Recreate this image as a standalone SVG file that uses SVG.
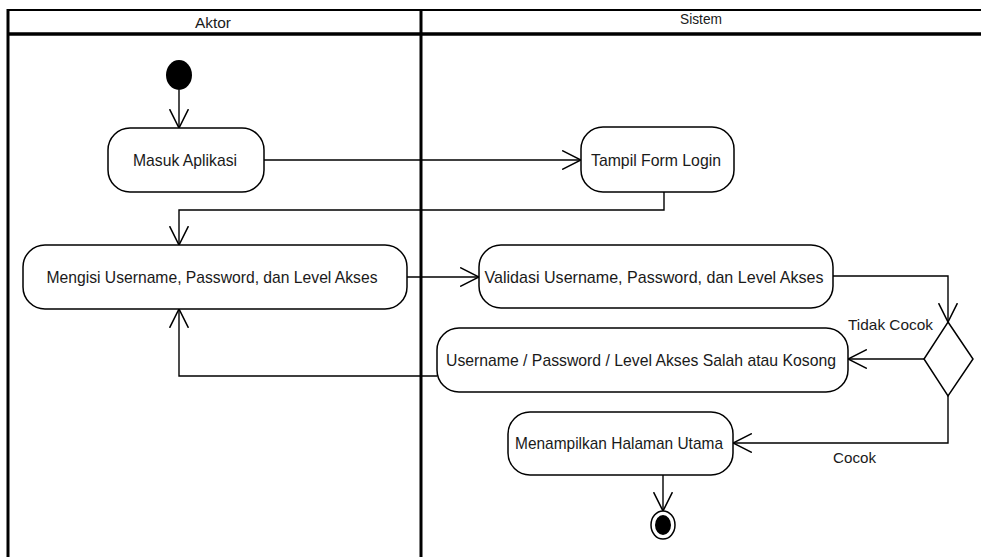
<svg xmlns="http://www.w3.org/2000/svg" width="981" height="557" viewBox="0 0 981 557">
<style>
.lane{stroke:#000;fill:none}
.node{fill:#fff;stroke:#000;stroke-width:1.5}
.t{font-family:"Liberation Sans",Arial,sans-serif;font-size:17px;fill:#1a1a1a}
.h{font-family:"Liberation Sans",Arial,sans-serif;font-size:15px;fill:#1a1a1a}
.c{fill:none;stroke:#000;stroke-width:1.4}
</style>
<defs>
<marker id="arr" markerUnits="userSpaceOnUse" markerWidth="20" markerHeight="20" viewBox="0 0 18 18" refX="17" refY="9" orient="auto">
<path d="M0,0.5 L17,9 L0,17.5" fill="none" stroke="#000" stroke-width="1.4"/>
</marker>
</defs>
<rect width="981" height="557" fill="#fff"/>
<g id="swimlanes">
<line class="lane" x1="8" y1="10" x2="981" y2="10" stroke-width="2"/>
<line class="lane" x1="8" y1="34" x2="981" y2="34" stroke-width="3.5"/>
<line class="lane" x1="8" y1="9" x2="8" y2="557" stroke-width="3"/>
<line class="lane" x1="421" y1="9" x2="421" y2="557" stroke-width="3"/>
<text class="h" x="213" y="28" text-anchor="middle" textLength="36" lengthAdjust="spacingAndGlyphs">Aktor</text>
<text class="h" x="701" y="24" text-anchor="middle" textLength="42" lengthAdjust="spacingAndGlyphs">Sistem</text>
</g>
<g id="connectors">
<path class="c" d="M179,90 V128" marker-end="url(#arr)"/>
<path class="c" d="M264,160 H581" marker-end="url(#arr)"/>
<path class="c" d="M664,192 V210 H179 V245" marker-end="url(#arr)"/>
<path class="c" d="M407,277 H479" marker-end="url(#arr)"/>
<path class="c" d="M833,276 H948 V322" marker-end="url(#arr)"/>
<path class="c" d="M924,359 H848" marker-end="url(#arr)"/>
<path class="c" d="M437,376 H179 V309" marker-end="url(#arr)"/>
<path class="c" d="M948,396 V443 H733" marker-end="url(#arr)"/>
<path class="c" d="M663,475 V511" marker-end="url(#arr)"/>
<text class="h" x="848" y="330" textLength="85" lengthAdjust="spacingAndGlyphs">Tidak Cocok</text>
<text class="h" x="833" y="463" textLength="43" lengthAdjust="spacingAndGlyphs">Cocok</text>
</g>
<g id="start">
<ellipse cx="179" cy="75" rx="13" ry="15" fill="#000"/>
</g>
<g id="masuk-aplikasi">
<rect class="node" x="108" y="128" width="156" height="64" rx="22"/>
<text class="t" x="185" y="166" text-anchor="middle" textLength="104" lengthAdjust="spacingAndGlyphs">Masuk Aplikasi</text>
</g>
<g id="tampil-form-login">
<rect class="node" x="581" y="127" width="153" height="65" rx="22"/>
<text class="t" x="656" y="166" text-anchor="middle" textLength="130" lengthAdjust="spacingAndGlyphs">Tampil Form Login</text>
</g>
<g id="mengisi">
<rect class="node" x="23" y="245" width="384" height="64" rx="22"/>
<text class="t" x="212" y="283" text-anchor="middle" textLength="331" lengthAdjust="spacingAndGlyphs">Mengisi Username, Password, dan Level Akses</text>
</g>
<g id="validasi">
<rect class="node" x="479" y="245" width="354" height="63" rx="22"/>
<text class="t" x="654" y="283" text-anchor="middle" textLength="339" lengthAdjust="spacingAndGlyphs">Validasi Username, Password, dan Level Akses</text>
</g>
<g id="decision">
<polygon class="node" points="948,322 973,359 948,396 924,359"/>
</g>
<g id="salah">
<rect class="node" x="437" y="328" width="411" height="64" rx="22"/>
<text class="t" x="641" y="366" text-anchor="middle" textLength="390" lengthAdjust="spacingAndGlyphs">Username / Password / Level Akses Salah atau Kosong</text>
</g>
<g id="halaman-utama">
<rect class="node" x="508" y="412" width="225" height="63" rx="22"/>
<text class="t" x="619" y="449" text-anchor="middle" textLength="208" lengthAdjust="spacingAndGlyphs">Menampilkan Halaman Utama</text>
</g>
<g id="end">
<ellipse cx="663" cy="525" rx="12" ry="14" fill="#fff" stroke="#000" stroke-width="1.5"/>
<ellipse cx="663" cy="525" rx="8" ry="10" fill="#000"/>
</g>
</svg>
